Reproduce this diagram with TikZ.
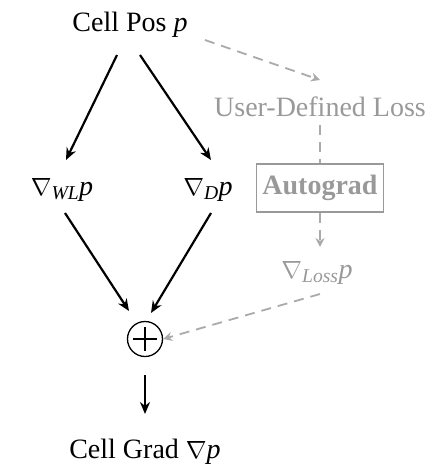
\documentclass[tikz,border=0pt]{standalone}
\usepackage{fontspec}
\setmainfont{Liberation Serif}
\usetikzlibrary{arrows.meta}
\definecolor{lossgray}{HTML}{999999}
\definecolor{dashgray}{HTML}{AAAAAA}
\newcommand{\ip}{\textit{p}}
\newcommand{\nab}{{\fontsize{30}{30}\selectfont$\nabla$}}
\tikzset{
  lbl/.style={font=\fontsize{28}{32}\selectfont, inner sep=0pt},
  glbl/.style={lbl, text=lossgray},
  flow/.style={line width=2.2pt, -{Stealth[length=12pt,width=10pt]}},
  gflow/.style={line width=1.8pt, dashgray, dash pattern=on 10pt off 7pt, -{Stealth[length=9pt,width=9pt]}},
  gline/.style={line width=1.8pt, dashgray, dash pattern=on 10pt off 7pt},
}
\begin{document}
\begin{tikzpicture}[x=1pt,y=-1pt]
\useasboundingbox (0,0) rectangle (442,467);
\node[lbl] (pos) at (130,25) {Cell Pos \ip};
\node[lbl] (wl) at (62,190) {\nab\textsubscript{\textit{WL}}\ip};
\node[lbl] (d) at (208,190) {\nab\textsubscript{\textit{D}}\ip};
\node[glbl] (loss) at (320,107) {User-Defined Loss};
\node[glbl, font=\fontsize{28}{32}\selectfont\bfseries, draw=lossgray, line width=1.3pt,
      minimum width=127pt, minimum height=48pt] (auto) at (320,188) {Autograd};
\node[glbl] (gl) at (317,273) {\nab\textsubscript{\textit{Loss}}\ip};
\node[circle, draw, line width=1.3pt, minimum size=35pt, inner sep=0pt] (sum) at (145,339) {};
\draw[line width=1.3pt] ([yshift=12pt]sum.center) -- ([yshift=-12pt]sum.center)
  ([xshift=-12pt]sum.center) -- ([xshift=12pt]sum.center);
\node[lbl] (grad) at (145,452) {Cell Grad \nab\ip};

\coordinate (a1) at (117,55);
\coordinate (a2) at (66,160);
\coordinate (b1) at (140,55);
\coordinate (b2) at (211,160);
\draw[flow] (a1) -- (a2);
\draw[flow] (b1) -- (b2);
\coordinate (c1) at (65,213);
\coordinate (c2) at (129,311);
\coordinate (d1) at (211,213);
\coordinate (d2) at (151,313);
\draw[flow] (c1) -- (c2);
\draw[flow] (d1) -- (d2);
\coordinate (e1) at (145,375);
\coordinate (e2) at (145,414);
\draw[flow] (e1) -- (e2);

\coordinate (g1) at (205,40);
\coordinate (g2) at (320,80);
\draw[gflow] (g1) -- (g2);
\coordinate (f1) at (320,125);
\draw[gline] (f1) -- (auto.north);
\coordinate (h2) at (320,247);
\draw[gflow] (auto.south) -- (h2);
\coordinate (k1) at (320,294);
\draw[gflow] (k1) -- (sum.east);
\end{tikzpicture}
\end{document}
